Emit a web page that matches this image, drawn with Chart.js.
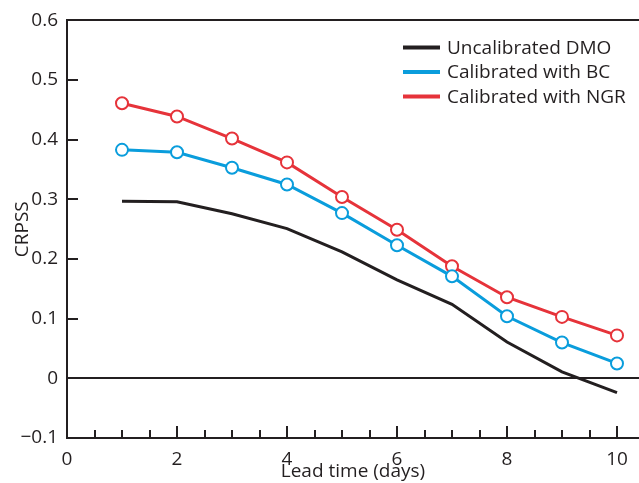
<!DOCTYPE html>
<html lang="en">
<head>
  <meta charset="UTF-8">
  <title>CRPSS by lead time</title>
  <script src="https://cdn.jsdelivr.net/npm/chart.js"></script>
  <style>
    body {
      margin: 0;
      padding: 0;
      background-color: white;
    }

    #chartBox {
      width: 639px;
      height: 483px;
      position: relative;
    }
  </style>
</head>
<body>

<div id="chartBox">
  <canvas id="crpssChart"></canvas>
</div>

<script>
  var leadDays = [1, 2, 3, 4, 5, 6, 7, 8, 9, 10];
  var dmoScores = [0.297, 0.296, 0.276, 0.251, 0.212, 0.165, 0.124, 0.061, 0.011, -0.024];
  var bcScores = [0.383, 0.379, 0.353, 0.325, 0.277, 0.223, 0.171, 0.104, 0.060, 0.025];
  var ngrScores = [0.461, 0.439, 0.402, 0.362, 0.304, 0.249, 0.188, 0.136, 0.103, 0.072];
  var seriesNames = ['Uncalibrated DMO', 'Calibrated with BC', 'Calibrated with NGR'];
  var xTickLabels = [0, 2, 4, 6, 8, 10];

  var inkColor = '#231f20';
  var fontFamily = "'Open Sans', sans-serif";
  var fontSize = 19;

  function toPoints(values) {
    return leadDays.map(function (d, i) { return { x: d, y: values[i] }; });
  }

  // tick marks point into the plot, so they are drawn here instead of by the axes
  var innerTicks = {
    id: 'innerTicks',
    beforeDatasetsDraw: function (chart) {
      var ctx = chart.ctx;
      var area = chart.chartArea;
      var xs = chart.scales.x;
      var ys = chart.scales.y;
      ctx.save();
      ctx.strokeStyle = inkColor;
      ctx.lineWidth = 2;
      ctx.beginPath();
      xs.ticks.forEach(function (t) {
        var px = Math.round(xs.getPixelForValue(t.value));
        var len = xTickLabels.indexOf(t.value) >= 0 ? 12 : 8;
        ctx.moveTo(px, area.bottom);
        ctx.lineTo(px, area.bottom - len);
      });
      ys.ticks.forEach(function (t) {
        var py = Math.round(ys.getPixelForValue(t.value));
        ctx.moveTo(area.left, py);
        ctx.lineTo(area.left + 11, py);
      });
      ctx.stroke();
      ctx.restore();
    }
  };

  // legend sits inside the plot, top right
  var lineLegend = {
    id: 'lineLegend',
    afterDraw: function (chart) {
      var ctx = chart.ctx;
      var area = chart.chartArea;
      var x0 = area.right - 236;
      ctx.save();
      ctx.font = fontSize + 'px ' + fontFamily;
      ctx.textBaseline = 'middle';
      ctx.fillStyle = inkColor;
      chart.data.datasets.forEach(function (ds, i) {
        var y = area.top + 27 + i * 24.5;
        ctx.strokeStyle = ds.borderColor;
        ctx.lineWidth = 4;
        ctx.beginPath();
        ctx.moveTo(x0, y);
        ctx.lineTo(x0 + 37, y);
        ctx.stroke();
        ctx.fillText(ds.label, x0 + 44, y + 1);
      });
      ctx.restore();
    }
  };

  var ctx = document.getElementById('crpssChart').getContext('2d');

  var crpssChart = new Chart(ctx, {
    type: 'line',
    data: {
      datasets: [{
        label: seriesNames[0],
        data: toPoints(dmoScores),
        borderColor: inkColor,
        borderWidth: 3,
        pointRadius: 0,
        tension: 0
      }, {
        label: seriesNames[1],
        data: toPoints(bcScores),
        borderColor: '#0a9ddc',
        borderWidth: 3,
        pointRadius: 6,
        pointBorderWidth: 2,
        pointBackgroundColor: 'white',
        pointBorderColor: '#0a9ddc',
        tension: 0
      }, {
        label: seriesNames[2],
        data: toPoints(ngrScores),
        borderColor: '#e6333a',
        borderWidth: 3,
        pointRadius: 6,
        pointBorderWidth: 2,
        pointBackgroundColor: 'white',
        pointBorderColor: '#e6333a',
        tension: 0
      }]
    },
    options: {
      responsive: true,
      maintainAspectRatio: false,
      animation: false,
      layout: {
        autoPadding: false,
        padding: { top: 19, right: 0, left: 0, bottom: 0 }
      },
      scales: {
        x: {
          type: 'linear',
          min: 0,
          max: 10.4,
          afterFit: function (s) {
            s.height = 45;
            s.paddingRight = 0;
            s.paddingLeft = 0;
          },
          ticks: {
            stepSize: 0.5,
            includeBounds: false,
            autoSkip: false,
            maxRotation: 0,
            padding: 2,
            color: inkColor,
            font: { family: fontFamily, size: fontSize },
            callback: function (v) { return xTickLabels.indexOf(v) >= 0 ? String(v) : ''; }
          },
          grid: { display: false },
          border: { display: true, color: inkColor, width: 2 },
          title: {
            display: true,
            text: 'Lead time (days)',
            color: inkColor,
            padding: 0,
            font: { family: fontFamily, size: fontSize }
          }
        },
        y: {
          min: -0.1,
          max: 0.6,
          afterFit: function (s) { s.width = 67; },
          ticks: {
            stepSize: 0.1,
            padding: 9,
            color: inkColor,
            font: { family: fontFamily, size: fontSize },
            callback: function (v) {
              var r = Math.round(v * 10) / 10;
              if (r === 0) return '0';
              return r < 0 ? '\u2212' + Math.abs(r).toFixed(1) : r.toFixed(1);
            }
          },
          grid: {
            drawTicks: false,
            lineWidth: 2,
            color: function (c) {
              var v = Math.round(c.tick.value * 10) / 10;
              return (v === 0 || v === 0.6) ? inkColor : 'rgba(0,0,0,0)';
            }
          },
          border: { display: true, color: inkColor, width: 2 },
          title: {
            display: true,
            text: 'CRPSS',
            color: inkColor,
            padding: { top: 11, bottom: 0 },
            font: { family: fontFamily, size: fontSize }
          }
        }
      },
      plugins: {
        legend: { display: false },
        tooltip: { enabled: false }
      }
    },
    plugins: [innerTicks, lineLegend]
  });
</script>

</body>
</html>
